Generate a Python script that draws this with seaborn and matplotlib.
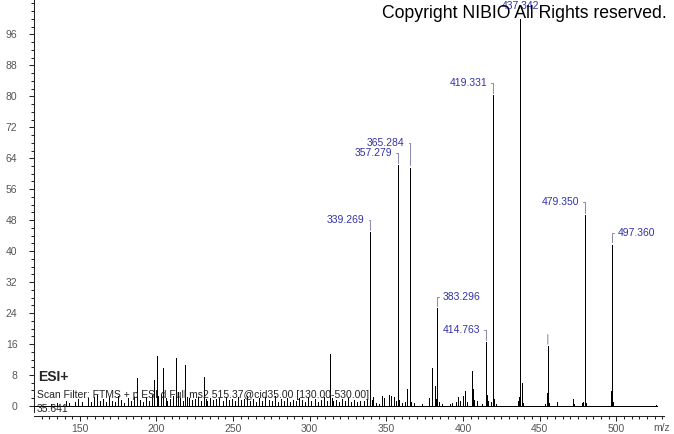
import numpy as np
import pandas as pd
import matplotlib
matplotlib.use("Agg")
import matplotlib.pyplot as plt
import seaborn as sns

# labelled peaks: m/z, relative abundance, where the label sits, how far above (pt)
label_mz = [339.269, 357.279, 365.284, 383.296, 414.763, 419.331, 437.342, 479.350, 497.360]
label_int = [45.0, 62.3, 61.6, 25.4, 16.6, 80.4, 100.0, 49.3, 41.7]
label_side = ["left", "left", "left", "right", "left", "left", "top", "left", "right"]
label_rise = [8.5, 8.5, 18.0, 8.0, 8.5, 8.5, 9.5, 9.5, 8.0]

# peak whose label was hidden (only the bracket tick is shown)
hidden_mz = [455.3]
hidden_int = [15.4]

# the rest of the spectrum (small peaks)
minor_mz = [131.1, 135.1, 141.1, 143.1, 147.1, 149.1, 151.1, 155.1, 157.1, 159.1,
            161.1, 163.1, 165.1, 167.1, 169.1, 171.1, 173.1, 175.1, 177.1, 179.1,
            181.1, 183.1, 185.1, 187.1, 189.1, 191.1, 193.1, 195.1, 197.1, 198.6,
            200.4, 201.2, 203.1, 204.5, 206.1, 207.1, 209.1, 211.1, 213.0, 214.1,
            215.1, 217.1, 218.6, 219.6, 221.1, 223.1, 225.1, 227.1, 229.1, 231.2,
            232.2, 233.1, 235.1, 237.1, 239.1, 241.1, 243.1, 245.1, 247.1, 249.1,
            251.1, 253.1, 255.1, 257.1, 259.1, 261.1, 263.1, 265.1, 267.1, 269.1,
            271.1, 273.1, 275.1, 277.1, 279.1, 281.1, 283.1, 285.1, 287.1, 289.1,
            291.1, 293.1, 295.1, 297.1, 299.1, 301.1, 303.1, 305.1, 307.1, 309.1,
            311.1, 313.4, 314.4, 315.1, 317.1, 319.1, 321.1, 323.1, 325.1, 327.1,
            329.1, 331.1, 333.1, 335.1, 337.1, 340.3, 341.5, 343.1, 345.1, 347.4,
            348.6, 351.5, 353.1, 355.2, 356.2, 358.3, 360.5, 361.9, 363.4, 366.3,
            368.0, 373.0, 377.8, 379.6, 381.5, 382.2, 384.3, 386.1, 391.2, 393.1,
            395.2, 396.8, 398.2, 400.1, 401.6, 402.5, 405.9, 406.6, 407.4, 409.4,
            412.5, 415.2, 415.8, 416.6, 418.5, 419.9, 421.3, 435.8, 436.3, 438.7,
            439.4, 453.5, 454.6, 456.2, 461.3, 471.5, 472.0, 472.6, 477.4, 478.0,
            480.3, 496.2, 498.0, 525.8]
minor_int = [0.6, 0.8, 1.2, 0.7, 1.0, 1.8, 0.9, 2.0, 1.1, 2.2,
             2.9, 1.3, 1.8, 0.9, 2.3, 1.4, 1.0, 2.6, 1.5, 0.8,
             2.0, 1.2, 2.4, 7.2, 1.5, 1.0, 2.2, 1.3, 2.8, 6.6,
             12.9, 2.5, 3.0, 9.7, 2.0, 1.2, 1.8, 2.5, 12.3, 3.5,
             2.0, 1.4, 10.6, 2.2, 2.0, 1.5, 1.8, 2.3, 1.4, 7.4,
             1.8, 1.2, 2.0, 1.5, 1.8, 2.1, 1.3, 2.4, 1.6, 1.9,
             1.2, 2.2, 1.5, 1.8, 2.6, 1.3, 1.7, 1.0, 2.0, 1.4,
             2.3, 1.6, 1.2, 2.5, 1.0, 1.9, 1.3, 2.1, 1.0, 1.6,
             1.2, 2.0, 1.5, 1.0, 2.4, 1.2, 1.8, 1.1, 1.6, 2.2,
             1.4, 13.4, 2.0, 1.2, 1.5, 1.0, 1.8, 1.3, 2.0, 1.1,
             1.6, 1.0, 1.4, 1.2, 1.8, 1.6, 2.2, 0.8, 0.6, 2.6,
             2.1, 2.9, 2.5, 2.2, 1.2, 1.5, 0.8, 0.9, 4.3, 1.0,
             0.8, 0.4, 2.0, 9.7, 5.1, 1.9, 1.0, 0.5, 0.6, 0.8,
             1.0, 2.2, 1.2, 2.5, 3.8, 1.0, 8.9, 4.5, 1.5, 1.4,
             0.5, 8.7, 2.8, 1.2, 0.9, 1.9, 0.6, 1.2, 2.4, 5.9,
             0.8, 0.6, 3.4, 0.7, 0.9, 0.8, 1.9, 0.6, 0.7, 1.0,
             0.8, 3.8, 1.1, 0.3]

scan_filter = "Scan Filter: FTMS + p ESI d Full ms2 515.37@cid35.00 [130.00-530.00]"
scan_time = "35.641"
x_range = (120.1, 531.1)
baseline_end = 526.5

spec = pd.DataFrame({
    "mz": label_mz + hidden_mz + minor_mz,
    "intensity": label_int + hidden_int + minor_int,
})

sns.set_style("ticks")
plt.rcParams["font.family"] = ["Liberation Sans", "DejaVu Sans"]

fig = plt.figure(figsize=(6.74, 4.34), dpi=100)
ax = fig.add_axes([34 / 674, 18 / 434, 630 / 674, 416 / 434])

# spectrum sticks and baseline (thin, crisp 1px lines)
ax.vlines(spec["mz"], 0, spec["intensity"], colors="black", linewidth=0.5,
          antialiased=False, zorder=3)
ax.hlines(0, x_range[0], baseline_end, colors="black", linewidth=0.5,
          antialiased=False, zorder=3)

lab_color = "#3232a8"
br_color = "#8c8cb4"
for mz, val, side, rise in zip(label_mz, label_int, label_side, label_rise):
    txt = f"{mz:.3f}"
    if side == "top":
        ax.annotate(txt, xy=(mz, val), xytext=(0, rise), textcoords="offset points",
                    ha="center", va="center", fontsize=7.5, color=lab_color, zorder=5)
        continue
    dx = -3.8 if side == "left" else 3.8
    ax.annotate(txt, xy=(mz, val), xytext=(dx, rise), textcoords="offset points",
                ha="right" if side == "left" else "left", va="center",
                fontsize=7.5, color=lab_color, zorder=5,
                arrowprops=dict(arrowstyle="-", color=br_color, lw=0.75,
                                shrinkA=0.5, shrinkB=1.5,
                                connectionstyle="angle,angleA=0,angleB=90,rad=0"))
for mz, val in zip(hidden_mz, hidden_int):
    ax.annotate("", xy=(mz, val), xytext=(0, 8.5), textcoords="offset points",
                arrowprops=dict(arrowstyle="-", color=br_color, lw=0.75,
                                shrinkA=0, shrinkB=1.5))

ax.set_xlim(*x_range)
ax.set_ylim(-2.6, 104.9)
ax.set_xticks(np.arange(150, 501, 50))
ax.set_xticks(np.arange(125, 531, 5), minor=True)
ax.set_yticks(np.arange(0, 97, 8))
ax.set_yticks(np.arange(0, 105, 2), minor=True)
ax.tick_params(axis="x", which="major", length=3.5, width=0.75, pad=2.4,
               labelsize=7.5, labelcolor="#555555", color="#222222")
ax.tick_params(axis="x", which="minor", length=2.3, width=0.75, color="#222222")
ax.tick_params(axis="y", which="major", length=3.4, width=0.75, pad=8.5,
               labelsize=7.5, labelcolor="#555555", color="#222222")
ax.tick_params(axis="y", which="minor", length=2.0, width=0.75, color="#222222")
sns.despine(ax=ax, top=True, right=True)
for s in ["left", "bottom"]:
    ax.spines[s].set_linewidth(0.75)
    ax.spines[s].set_color("#222222")
ax.spines["left"].set_bounds(-1.5, 104.9)
ax.set_xlabel("")
ax.set_ylabel("")
ax.patch.set_visible(False)

ax.annotate("m/z", xy=(1, 0), xycoords="axes fraction", xytext=(-2, -8.6),
            textcoords="offset points", ha="center", va="center",
            fontsize=7.5, color="#555555")

fig.text(38 / 674, 1 - 376.7 / 434, "ESI+", fontsize=10, fontweight="bold",
         ha="left", va="center")
fig.text(36.7 / 674, 1 - 395 / 434, scan_filter, fontsize=7.5, ha="left",
         va="center", color="#222222")
fig.text(36.7 / 674, 1 - 409 / 434, scan_time, fontsize=7.5, ha="left",
         va="center", color="#222222")
fig.text(667 / 674, 1 - 13 / 434, "Copyright NIBIO All Rights reserved.",
         fontsize=12.7, ha="right", va="center", color="black", zorder=1)

fig.savefig("out.png", dpi=100)
